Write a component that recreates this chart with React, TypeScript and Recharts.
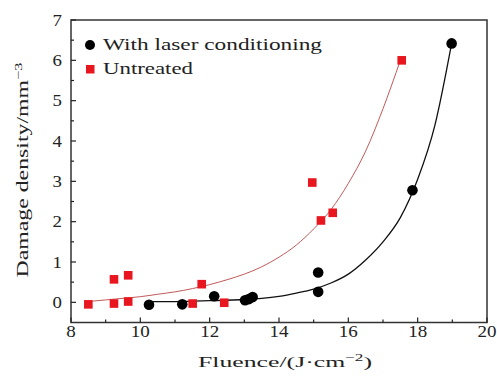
import React from 'react';
import { ScatterChart, Scatter, XAxis, YAxis, ReferenceArea, Legend } from 'recharts';

const xMajorTicks = [8, 10, 12, 14, 16, 18, 20];
const xMinorTicks = [9, 11, 13, 15, 17, 19];
const yMajorTicks = [0, 1, 2, 3, 4, 5, 6, 7];
const yMinorTicks = [0.5, 1.5, 2.5, 3.5, 4.5, 5.5, 6.5];

const conditionedFluence = [10.25, 11.21, 12.13, 13.02, 13.13, 13.24, 15.13, 15.13, 17.85, 18.98];
const conditionedDensity = [-0.06, -0.05, 0.15, 0.05, 0.08, 0.13, 0.26, 0.74, 2.78, 6.42];

const untreatedFluence = [8.5, 9.24, 9.24, 9.65, 9.65, 11.51, 11.77, 12.42, 14.96, 15.21, 15.55, 17.54];
const untreatedDensity = [-0.05, 0.57, -0.03, 0.67, 0.02, -0.03, 0.45, -0.01, 2.97, 2.03, 2.22, 6.0];

const conditionedFitFluence = [10.25, 11, 12, 13, 13.5, 14, 14.5, 15, 15.5, 16, 16.5, 17, 17.5, 18, 18.5, 18.98];
const conditionedFitDensity = [0.02, 0.02, 0.04, 0.07, 0.1, 0.15, 0.23, 0.33, 0.48, 0.7, 1.05, 1.5, 2.1, 3.05, 4.4, 6.42];

const untreatedFitFluence = [8.5, 9, 9.5, 10, 10.5, 11, 11.5, 12, 12.5, 13, 13.5, 14, 14.5, 15, 15.5, 16, 16.5, 17, 17.5];
const untreatedFitDensity = [0.02, 0.06, 0.1, 0.14, 0.2, 0.26, 0.34, 0.44, 0.56, 0.7, 0.88, 1.12, 1.42, 1.82, 2.3, 2.95, 3.75, 4.8, 6.0];

const seriesNames = ['With laser conditioning', 'Untreated'];

const zip = (xs: number[], ys: number[]) => xs.map((x, i) => ({ x, y: ys[i] }));

const conditionedData = zip(conditionedFluence, conditionedDensity);
const untreatedData = zip(untreatedFluence, untreatedDensity);
const conditionedFit = zip(conditionedFitFluence, conditionedFitDensity);
const untreatedFit = zip(untreatedFitFluence, untreatedFitDensity);

const FONT = '"Liberation Serif", "Times New Roman", serif';
const INK = '#222';
const RED = '#e8161e';

const XTick = (props: any) => {
  const { x, y, payload } = props;
  const v = payload.value;
  const major = xMajorTicks.includes(v);
  const label = String(v);
  return (
    <g>
      <line x1={x} y1={y} x2={x} y2={y - (major ? 5 : 3)} stroke={INK} strokeWidth={1.2} />
      {major && (
        <text x={x} y={y + 14} textAnchor="middle" fontFamily={FONT} fontSize={16} fill={INK}
          textLength={label.length * 9.5} lengthAdjust="spacingAndGlyphs">
          {label}
        </text>
      )}
    </g>
  );
};

const YTick = (props: any) => {
  const { x, y, payload } = props;
  const v = payload.value;
  const major = yMajorTicks.includes(v);
  const label = String(v);
  return (
    <g>
      <line x1={x} y1={y} x2={x + (major ? 5 : 3)} y2={y} stroke={INK} strokeWidth={1.2} />
      {major && (
        <text x={x - 9} y={y + 5.5} textAnchor="end" fontFamily={FONT} fontSize={16} fill={INK}
          textLength={label.length * 9.4} lengthAdjust="spacingAndGlyphs">
          {label}
        </text>
      )}
    </g>
  );
};

const XTitle = () => (
  <text x={285} y={367} textAnchor="middle" fontFamily={FONT} fontSize={15} fill={INK}
    textLength={174} lengthAdjust="spacingAndGlyphs">
    Fluence/(J·cm<tspan dy={-6} fontSize={10}>−2</tspan><tspan dy={6}>)</tspan>
  </text>
);

const YTitle = () => (
  <text x={28} y={170} transform="rotate(-90, 28, 170)" textAnchor="middle" fontFamily={FONT} fontSize={16} fill={INK}
    textLength={215} lengthAdjust="spacingAndGlyphs">
    Damage density/mm<tspan dy={-6} fontSize={11}>−3</tspan>
  </text>
);

const LegendContent = () => (
  <svg width={260} height={52} style={{ display: 'block' }}>
    <circle cx={10} cy={15} r={5} fill="#000" />
    <text x={23} y={20} fontFamily={FONT} fontSize={17} fill={INK} textLength={219} lengthAdjust="spacingAndGlyphs">
      {seriesNames[0]}
    </text>
    <rect x={6} y={35} width={8.5} height={8.5} fill={RED} />
    <text x={23} y={44} fontFamily={FONT} fontSize={17} fill={INK} textLength={90} lengthAdjust="spacingAndGlyphs">
      {seriesNames[1]}
    </text>
  </svg>
);

const CircleShape = (props: any) => <circle cx={props.cx} cy={props.cy} r={5.3} fill="#000" />;
const SquareShape = (props: any) => <rect x={props.cx - 4.3} y={props.cy - 4.3} width={8.6} height={8.6} fill={RED} />;
const NoShape = () => <g />;

export default function App() {
  return (
    <div style={{ position: 'fixed', left: 0, top: 0, background: '#fff' }}>
      <ScatterChart width={497} height={376} margin={{ top: 20, right: 10, bottom: 0, left: 0 }}>
        <XAxis
          type="number"
          dataKey="x"
          domain={[8, 20]}
          ticks={[...xMajorTicks, ...xMinorTicks].sort((a, b) => a - b)}
          interval={0}
          height={53.5}
          tickSize={0}
          tickMargin={0}
          axisLine={false}
          tickLine={false}
          tick={<XTick />}
          allowDataOverflow
          label={<XTitle />}
        />
        <YAxis
          type="number"
          dataKey="y"
          domain={[-0.5, 7]}
          ticks={[...yMajorTicks, ...yMinorTicks].sort((a, b) => a - b)}
          interval={0}
          width={71}
          tickSize={0}
          tickMargin={0}
          axisLine={false}
          tickLine={false}
          tick={<YTick />}
          allowDataOverflow
          label={<YTitle />}
        />
        <Legend
          layout="horizontal"
          verticalAlign="middle"
          align="center"
          wrapperStyle={{ left: 80, top: 30, width: 260, height: 52 }}
          content={<LegendContent />}
        />
        <Scatter data={untreatedFit} line={{ stroke: '#c25a5a', strokeWidth: 1 }} lineJointType="monotoneX"
          shape={<NoShape />} legendType="none" isAnimationActive={false} />
        <Scatter data={conditionedFit} line={{ stroke: '#111', strokeWidth: 1.3 }} lineJointType="monotoneX"
          shape={<NoShape />} legendType="none" isAnimationActive={false} />
        <Scatter name={seriesNames[1]} data={untreatedData} shape={<SquareShape />} isAnimationActive={false} />
        <Scatter name={seriesNames[0]} data={conditionedData} shape={<CircleShape />} isAnimationActive={false} />
        <ReferenceArea x1={8} x2={20} y1={-0.5} y2={7} fill="none" stroke="#333" strokeWidth={1.5} ifOverflow="visible" />
      </ScatterChart>
    </div>
  );
}
